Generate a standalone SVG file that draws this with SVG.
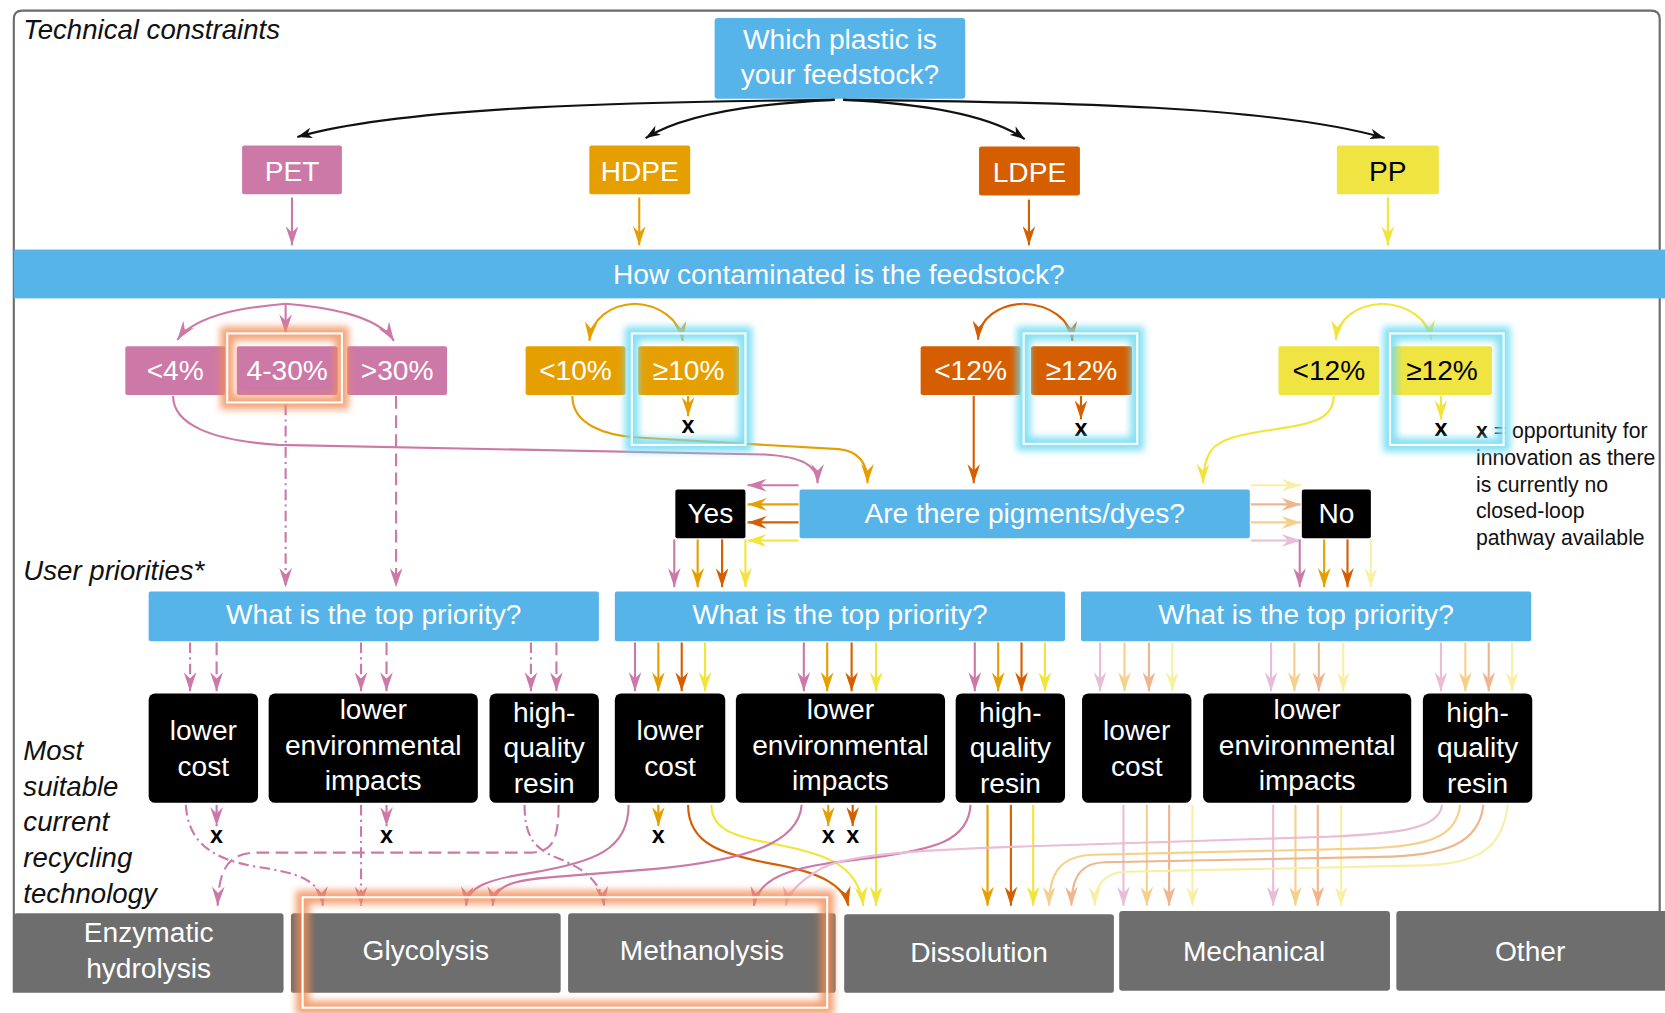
<svg xmlns="http://www.w3.org/2000/svg" width="1665" height="1013" viewBox="0 0 1665 1013">
<defs>
<style>
.f{font-family:"Liberation Sans",Arial,Helvetica,sans-serif}
.w{fill:#fff;font-size:26.5px;text-anchor:middle}
.k{fill:#000;font-size:26.5px;text-anchor:middle}
.it{fill:#111;font-size:26px;font-style:italic}
.lg{fill:#111;font-size:20px}
.xm{fill:#000;font-size:22px;font-weight:bold;text-anchor:middle}
.blue{fill:#56B4E9}
.pet{fill:#CC79A7}.hdpe{fill:#E69F00}.ldpe{fill:#D55E00}.pp{fill:#F0E442}
.blk{fill:#000}
.gry{fill:#6E6E6E}
.c{fill:none;stroke-width:2}
.bk{stroke:#111;marker-end:url(#a-bk)}
.pk{stroke:#CC79A7;marker-end:url(#a-pk)}
.or{stroke:#E69F00;marker-end:url(#a-or)}
.vm{stroke:#D55E00;marker-end:url(#a-vm)}
.ye{stroke:#F2E43A;marker-end:url(#a-ye)}
.ppk{stroke:#E9BDD7;marker-end:url(#a-ppk)}
.por{stroke:#F5D08A;marker-end:url(#a-por)}
.pvm{stroke:#EFB58E;marker-end:url(#a-pvm)}
.pye{stroke:#F7F0A4;marker-end:url(#a-pye)}
.dd{stroke-dasharray:10 4 2 4}
.ds{stroke-dasharray:12 6}
.gor{fill:none;stroke:#F28C55;stroke-width:13;opacity:.8;filter:url(#blur)}
.gcy{fill:none;stroke:#6EDCF2;stroke-width:13;opacity:.85;filter:url(#blur)}
.wl{fill:none;stroke:#fff;stroke-width:2}
</style>
<filter id="blur" x="-50%" y="-50%" width="200%" height="200%"><feGaussianBlur stdDeviation="3.5"/></filter>
<marker id="a-bk" viewBox="0 0 14 10" refX="14" refY="5" markerWidth="14" markerHeight="10" markerUnits="userSpaceOnUse" orient="auto"><path d="M0,0 L14,5 L0,10 L4,5z" fill="#111"/></marker>
<marker id="a-pk" viewBox="0 0 18 12" refX="18" refY="6" markerWidth="18" markerHeight="12" markerUnits="userSpaceOnUse" orient="auto"><path d="M0,0 L18,6 L0,12 L6,6z" fill="#CC79A7"/></marker>
<marker id="a-or" viewBox="0 0 18 12" refX="18" refY="6" markerWidth="18" markerHeight="12" markerUnits="userSpaceOnUse" orient="auto"><path d="M0,0 L18,6 L0,12 L6,6z" fill="#E69F00"/></marker>
<marker id="a-vm" viewBox="0 0 18 12" refX="18" refY="6" markerWidth="18" markerHeight="12" markerUnits="userSpaceOnUse" orient="auto"><path d="M0,0 L18,6 L0,12 L6,6z" fill="#D55E00"/></marker>
<marker id="a-ye" viewBox="0 0 18 12" refX="18" refY="6" markerWidth="18" markerHeight="12" markerUnits="userSpaceOnUse" orient="auto"><path d="M0,0 L18,6 L0,12 L6,6z" fill="#F2E43A"/></marker>
<marker id="a-ppk" viewBox="0 0 18 12" refX="18" refY="6" markerWidth="18" markerHeight="12" markerUnits="userSpaceOnUse" orient="auto"><path d="M0,0 L18,6 L0,12 L6,6z" fill="#E9BDD7"/></marker>
<marker id="a-por" viewBox="0 0 18 12" refX="18" refY="6" markerWidth="18" markerHeight="12" markerUnits="userSpaceOnUse" orient="auto"><path d="M0,0 L18,6 L0,12 L6,6z" fill="#F5D08A"/></marker>
<marker id="a-pvm" viewBox="0 0 18 12" refX="18" refY="6" markerWidth="18" markerHeight="12" markerUnits="userSpaceOnUse" orient="auto"><path d="M0,0 L18,6 L0,12 L6,6z" fill="#EFB58E"/></marker>
<marker id="a-pye" viewBox="0 0 18 12" refX="18" refY="6" markerWidth="18" markerHeight="12" markerUnits="userSpaceOnUse" orient="auto"><path d="M0,0 L18,6 L0,12 L6,6z" fill="#F7F0A4"/></marker>
</defs>
<rect width="1665" height="1013" fill="#fff"/>
<g transform="scale(1.061862)">
<path id="frame" d="M13,935 L13,18 Q13,10 21,10 L1555,10 Q1563,10 1563,18 L1563,860" fill="none" stroke="#6b6b6b" stroke-width="2"/>
<g class="f">
<text class="it" x="22" y="37">Technical constraints</text>
<text class="it" x="22" y="546">User priorities*</text>
<text class="it" x="22" y="716">Most</text>
<text class="it" x="22" y="749.5">suitable</text>
<text class="it" x="22" y="783">current</text>
<text class="it" x="22" y="816.5">recycling</text>
<text class="it" x="22" y="850">technology</text>
<g id="legend" class="lg">
<text x="1390" y="412.5"><tspan font-weight="bold">x</tspan> = opportunity for</text>
<text x="1390" y="438">innovation as there</text>
<text x="1390" y="463">is currently no</text>
<text x="1390" y="488">closed-loop</text>
<text x="1390" y="513">pathway available</text>
</g>
</g>

<g id="nodes" class="f">
<g id="q-plastic"><rect class="blue" x="673" y="17" width="236" height="76" rx="3"/><text class="w" x="791" y="46">Which plastic is</text><text class="w" x="791" y="79">your feedstock?</text></g>
<g id="pet"><rect class="pet" x="228" y="137" width="94" height="46" rx="2"/><text class="w" x="275" y="170">PET</text></g>
<g id="hdpe"><rect class="hdpe" x="555" y="137" width="95" height="46" rx="2"/><text class="w" x="602.5" y="170">HDPE</text></g>
<g id="ldpe"><rect class="ldpe" x="922" y="138" width="95" height="46" rx="2"/><text class="w" x="969.5" y="171">LDPE</text></g>
<g id="pp"><rect class="pp" x="1259" y="137" width="96" height="46" rx="2"/><text class="k" x="1307" y="170">PP</text></g>
<g id="q-contam"><rect class="blue" x="13" y="235" width="1555" height="46"/><text class="w" x="790" y="267">How contaminated is the feedstock?</text></g>
<g id="pet-lt4"><rect class="pet" x="118" y="326" width="94" height="46" rx="2"/><text class="w" x="165" y="358">&lt;4%</text></g>
<g id="pet-4-30"><rect class="pet" x="223" y="326" width="95" height="46" rx="2"/><text class="w" x="270.5" y="358">4-30%</text></g>
<g id="pet-gt30"><rect class="pet" x="327" y="326" width="94" height="46" rx="2"/><text class="w" x="374" y="358">&gt;30%</text></g>
<g id="hdpe-lt10"><rect class="hdpe" x="495" y="326" width="94" height="46" rx="2"/><text class="w" x="542" y="358">&lt;10%</text></g>
<g id="hdpe-ge10"><rect class="hdpe" x="601" y="326" width="95" height="46" rx="2"/><text class="w" x="648.5" y="358">≥10%</text></g>
<g id="ldpe-lt12"><rect class="ldpe" x="867" y="326" width="94" height="46" rx="2"/><text class="w" x="914" y="358">&lt;12%</text></g>
<g id="ldpe-ge12"><rect class="ldpe" x="971" y="326" width="95" height="46" rx="2"/><text class="w" x="1018.5" y="358">≥12%</text></g>
<g id="pp-lt12"><rect class="pp" x="1204" y="326" width="95" height="46" rx="2"/><text class="k" x="1251.5" y="358">&lt;12%</text></g>
<g id="pp-ge12"><rect class="pp" x="1311" y="326" width="94" height="46" rx="2"/><text class="k" x="1358" y="358">≥12%</text></g>
<g id="q-pigments"><rect class="blue" x="753" y="461" width="424" height="46" rx="2"/><text class="w" x="965" y="493">Are there pigments/dyes?</text></g>
<g id="yes"><rect class="blk" x="636" y="461" width="66" height="46" rx="2"/><text class="w" x="669" y="493">Yes</text></g>
<g id="no"><rect class="blk" x="1226" y="461" width="65" height="46" rx="2"/><text class="w" x="1258.5" y="493">No</text></g>
<g id="q-priority-1"><rect class="blue" x="140" y="557" width="424" height="47" rx="2"/><text class="w" x="352" y="588">What is the top priority?</text></g>
<g id="q-priority-2"><rect class="blue" x="579" y="557" width="424" height="47" rx="2"/><text class="w" x="791" y="588">What is the top priority?</text></g>
<g id="q-priority-3"><rect class="blue" x="1018" y="557" width="424" height="47" rx="2"/><text class="w" x="1230" y="588">What is the top priority?</text></g>
<g id="cost-1"><rect class="blk" x="140" y="653" width="103" height="103" rx="6"/><text class="w" x="191.5" y="697">lower</text><text class="w" x="191.5" y="731">cost</text></g>
<g id="env-1"><rect class="blk" x="253" y="653" width="197" height="103" rx="6"/><text class="w" x="351.5" y="677">lower</text><text class="w" x="351.5" y="711">environmental</text><text class="w" x="351.5" y="744">impacts</text></g>
<g id="hq-1"><rect class="blk" x="461" y="653" width="103" height="103" rx="6"/><text class="w" x="512.5" y="680">high-</text><text class="w" x="512.5" y="713">quality</text><text class="w" x="512.5" y="747">resin</text></g>
<g id="cost-2"><rect class="blk" x="579" y="653" width="104" height="103" rx="6"/><text class="w" x="631" y="697">lower</text><text class="w" x="631" y="731">cost</text></g>
<g id="env-2"><rect class="blk" x="693" y="653" width="197" height="103" rx="6"/><text class="w" x="791.5" y="677">lower</text><text class="w" x="791.5" y="711">environmental</text><text class="w" x="791.5" y="744">impacts</text></g>
<g id="hq-2"><rect class="blk" x="900" y="653" width="103" height="103" rx="6"/><text class="w" x="951.5" y="680">high-</text><text class="w" x="951.5" y="713">quality</text><text class="w" x="951.5" y="747">resin</text></g>
<g id="cost-3"><rect class="blk" x="1019" y="653" width="103" height="103" rx="6"/><text class="w" x="1070.5" y="697">lower</text><text class="w" x="1070.5" y="731">cost</text></g>
<g id="env-3"><rect class="blk" x="1133" y="653" width="196" height="103" rx="6"/><text class="w" x="1231" y="677">lower</text><text class="w" x="1231" y="711">environmental</text><text class="w" x="1231" y="744">impacts</text></g>
<g id="hq-3"><rect class="blk" x="1340" y="653" width="103" height="103" rx="6"/><text class="w" x="1391.5" y="680">high-</text><text class="w" x="1391.5" y="713">quality</text><text class="w" x="1391.5" y="747">resin</text></g>
<g id="enzymatic"><rect class="gry" x="13" y="860" width="254" height="75" rx="3"/><text class="w" x="140" y="887">Enzymatic</text><text class="w" x="140" y="921">hydrolysis</text></g>
<g id="glycolysis"><rect class="gry" x="274" y="860" width="254" height="75" rx="3"/><text class="w" x="401" y="904">Glycolysis</text></g>
<g id="methanolysis"><rect class="gry" x="535" y="860" width="252" height="75" rx="3"/><text class="w" x="661" y="904">Methanolysis</text></g>
<g id="dissolution"><rect class="gry" x="795" y="861" width="254" height="74" rx="3"/><text class="w" x="922" y="906">Dissolution</text></g>
<g id="mechanical"><rect class="gry" x="1054" y="858" width="255" height="75" rx="3"/><text class="w" x="1181" y="905">Mechanical</text></g>
<g id="other"><rect class="gry" x="1315" y="858" width="260" height="75" rx="3"/><text class="w" x="1441" y="905">Other</text></g>
</g>

<g id="connectors">
<path class="c bk" d="M786,94 C600,96 380,100 280,129"/>
<path class="c bk" d="M786,94 C700,98 640,110 608,130"/>
<path class="c bk" d="M794,94 C880,98 935,110 965,131"/>
<path class="c bk" d="M794,94 C1000,96 1200,100 1304,130"/>
<path class="c pk" d="M275,186 L275,231"/>
<path class="c or" d="M602,186 L602,231"/>
<path class="c vm" d="M969,188 L969,231"/>
<path class="c ye" d="M1307,186 L1307,231"/>
<path class="c pk" d="M269,286 C235,289 185,295 167,320"/>
<path class="c pk" d="M269,286 L269,314"/>
<path class="c pk" d="M269,286 C305,289 355,296 371,321"/>
<path class="c or" d="M598,286 C575,287 557,300 555,321"/>
<path class="c or" d="M598,286 C620,287 640,300 643,321"/>
<path class="c vm" d="M964,286 C940,287 922,300 921,320"/>
<path class="c vm" d="M964,286 C988,287 1008,300 1010,321"/>
<path class="c ye" d="M1302,286 C1278,287 1260,300 1258,320"/>
<path class="c ye" d="M1302,286 C1325,287 1345,300 1348,320"/>
<path class="c or" d="M648,373 L648,392"/>
<path class="c vm" d="M1018,373 L1018,395"/>
<path class="c ye" d="M1357,373 L1357,395"/>
<path class="c pk dd" d="M269,381 L269,553"/>
<path class="c pk ds" d="M373,373 L373,553"/>
<path class="c pk" d="M163,373 C163,400 200,415 262,419 L720,428 C755,430 770,438 770,455"/>
<path class="c or" d="M539,373 C539,400 570,410 600,412 L790,423 C810,425 817,438 817,455"/>
<path class="c vm" d="M917,373 L917,455"/>
<path class="c ye" d="M1256,373 C1256,392 1240,398 1215,402 C1180,408 1150,410 1140,425 C1134,435 1133,445 1133,455"/>
<path class="c pk" d="M752,457 L704,457"/>
<path class="c or" d="M752,475 L704,475"/>
<path class="c vm" d="M752,492 L704,492"/>
<path class="c ye" d="M752,509 L704,509"/>
<path class="c pye" d="M1178,457 L1225,457"/>
<path class="c pvm" d="M1178,475 L1225,475"/>
<path class="c por" d="M1178,492 L1225,492"/>
<path class="c ppk" d="M1178,509 L1225,509"/>
<path class="c pk" d="M635,508 L635,553"/>
<path class="c or" d="M657,508 L657,553"/>
<path class="c vm" d="M680,508 L680,553"/>
<path class="c ye" d="M702,508 L702,553"/>
<path class="c pk" d="M1224,508 L1224,553"/>
<path class="c or" d="M1247,508 L1247,553"/>
<path class="c vm" d="M1269,508 L1269,553"/>
<path class="c pye" d="M1291,508 L1291,553"/>
<path class="c pk dd" d="M179,605 L179,651"/>
<path class="c pk ds" d="M204,605 L204,651"/>
<path class="c pk dd" d="M340,605 L340,651"/>
<path class="c pk ds" d="M364,605 L364,651"/>
<path class="c pk dd" d="M500,605 L500,651"/>
<path class="c pk ds" d="M524,605 L524,651"/>
<path class="c pk" d="M598,605 L598,651"/>
<path class="c or" d="M620,605 L620,651"/>
<path class="c vm" d="M642,605 L642,651"/>
<path class="c ye" d="M664,605 L664,651"/>
<path class="c pk" d="M757,605 L757,651"/>
<path class="c or" d="M779,605 L779,651"/>
<path class="c vm" d="M802,605 L802,651"/>
<path class="c ye" d="M825,605 L825,651"/>
<path class="c pk" d="M918,605 L918,651"/>
<path class="c or" d="M940,605 L940,651"/>
<path class="c vm" d="M962,605 L962,651"/>
<path class="c ye" d="M984,605 L984,651"/>
<path class="c ppk" d="M1036,605 L1036,651"/>
<path class="c por" d="M1059,605 L1059,651"/>
<path class="c pvm" d="M1082,605 L1082,651"/>
<path class="c pye" d="M1104,605 L1104,651"/>
<path class="c ppk" d="M1197,605 L1197,651"/>
<path class="c por" d="M1219,605 L1219,651"/>
<path class="c pvm" d="M1242,605 L1242,651"/>
<path class="c pye" d="M1265,605 L1265,651"/>
<path class="c ppk" d="M1357,605 L1357,651"/>
<path class="c por" d="M1380,605 L1380,651"/>
<path class="c pvm" d="M1402,605 L1402,651"/>
<path class="c pye" d="M1424,605 L1424,651"/>
<path class="c pk dd" d="M175,758 C177,790 195,808 240,816 C280,822 302,828 304,853"/>
<path class="c pk ds" d="M204,758 L204,778"/>
<path class="c pk dd" d="M340,758 L340,853"/>
<path class="c pk ds" d="M364,758 L364,778"/>
<path class="c pk dd" d="M494,758 C494,790 505,800 525,808 C550,818 566,830 569,853"/>
<path class="c pk ds" d="M526,758 C526,792 520,802 500,803 L240,803 C215,804 206,818 205,853"/>
<path class="c pk" d="M592,758 C592,800 560,812 500,822 C460,828 440,835 439,853"/>
<path class="c or" d="M620,758 L620,778"/>
<path class="c vm" d="M648,758 C648,795 680,805 730,814 C775,822 795,835 799,853"/>
<path class="c ye" d="M670,758 C670,780 690,787 720,793 C770,803 808,810 813,853"/>
<path class="c pk" d="M755,758 C752,795 700,810 620,818 L520,826 C480,829 465,835 464,853"/>
<path class="c or" d="M780,758 L780,778"/>
<path class="c vm" d="M803,758 L803,778"/>
<path class="c ye" d="M825,758 L825,853"/>
<path class="c pk" d="M914,758 C912,792 880,800 820,808 C760,815 715,820 710,853"/>
<path class="c or" d="M930,758 L930,853"/>
<path class="c vm" d="M952,758 L952,853"/>
<path class="c ye" d="M973,758 L973,853"/>
<path class="c ppk" d="M1058,758 L1058,853"/>
<path class="c por" d="M1080,758 L1080,853"/>
<path class="c pvm" d="M1101,758 L1101,853"/>
<path class="c pye" d="M1123,758 L1123,853"/>
<path class="c ppk" d="M1199,758 L1199,853"/>
<path class="c por" d="M1220,758 L1220,853"/>
<path class="c pvm" d="M1241,758 L1241,853"/>
<path class="c pye" d="M1263,758 L1263,853"/>
<path class="c ppk" d="M1358,758 C1356,780 1320,785 1250,788 L1000,796 C860,800 790,805 770,820 C750,832 742,842 740,853"/>
<path class="c por" d="M1375,758 C1372,790 1340,797 1290,799 L1030,805 C1000,806 988,820 988,853"/>
<path class="c pvm" d="M1397,758 C1393,795 1360,806 1300,807 L1040,812 C1015,813 1009,830 1009,853"/>
<path class="c pye" d="M1420,758 C1415,800 1390,814 1340,815 L1060,821 C1038,822 1031,835 1031,853"/>
</g>

<g id="x-marks" class="f">
<text class="xm" x="648" y="408">x</text>
<text class="xm" x="1018" y="411">x</text>
<text class="xm" x="1357" y="411">x</text>
<text class="xm" x="204" y="794">x</text>
<text class="xm" x="364" y="794">x</text>
<text class="xm" x="620" y="794">x</text>
<text class="xm" x="780" y="794">x</text>
<text class="xm" x="803" y="794">x</text>
</g>

<g id="highlights">
<rect class="gor" x="214" y="314" width="108" height="65"/>
<rect class="wl" x="214" y="314" width="108" height="65"/>
<rect class="gcy" x="595" y="314" width="107" height="105"/>
<rect class="wl" x="595" y="314" width="107" height="105"/>
<rect class="gcy" x="964" y="314" width="107" height="104"/>
<rect class="wl" x="964" y="314" width="107" height="104"/>
<rect class="gcy" x="1309" y="314" width="107" height="105"/>
<rect class="wl" x="1309" y="314" width="107" height="105"/>
<rect class="gor" x="285" y="845" width="494" height="104"/>
<rect class="wl" x="285" y="845" width="494" height="104"/>
</g>
</g>
</svg>
